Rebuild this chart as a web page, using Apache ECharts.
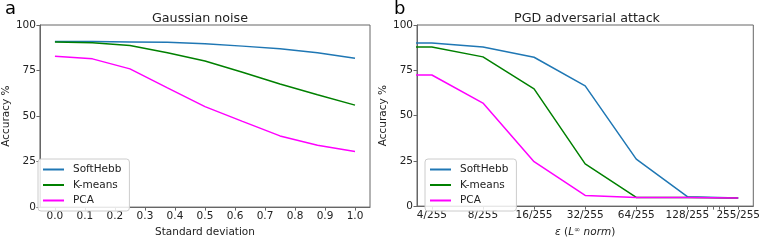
<!DOCTYPE html>
<html>
<head>
<meta charset="utf-8">
<script src="https://cdn.jsdelivr.net/npm/echarts@6/dist/echarts.min.js"></script>
<style>
html,body{margin:0;padding:0;background:#fff;}
#chart{width:763px;height:243px;}
</style>
</head>
<body>
<div id="chart"></div>
<script>
// ---- data ----
const seriesNames = ['SoftHebb', 'K-means', 'PCA'];
const gaussStd = [0, 0.125, 0.25, 0.375, 0.5, 0.625, 0.75, 0.875, 1.0];
const gaussSoftHebb = [91.0, 90.9, 90.7, 90.5, 89.7, 88.4, 87.0, 84.8, 81.7];
const gaussKmeans   = [90.7, 90.2, 88.8, 84.8, 80.2, 74.1, 67.6, 61.7, 56.0];
const gaussPCA      = [82.8, 81.4, 75.9, 65.5, 55.2, 47.1, 39.1, 34.0, 30.5];
const gaussTicks = [0, 0.1, 0.2, 0.3, 0.4, 0.5, 0.6, 0.7, 0.8, 0.9, 1.0];

// epsilon numerators (epsilon = n/255)
const pgdEps       = [2, 4, 8, 16, 32, 64, 128, 255];
const pgdSoftHebb  = [90.0, 90.0, 87.9, 82.2, 66.4, 25.9, 5.2, 4.5];
const pgdKmeans    = [87.8, 87.8, 82.4, 64.7, 23.3, 4.8, 4.7, 4.5];
const pgdPCA       = [72.4, 72.4, 56.9, 24.5, 5.9, 4.7, 4.7, 4.5];
const pgdTicks = [4, 8, 16, 32, 64, 128, 255];
const pgdMinorTicks = [167, 181, 196, 212];
const yTicks = [0, 25, 50, 75, 100];

const colors = {'SoftHebb': '#1f77b4', 'K-means': '#008000', 'PCA': '#ff00ff'};
const FONT = '"DejaVu Sans", sans-serif';
const frameColor = '#666';
const textColor = '#222';

function pairs(xs, ys) { return xs.map((x, i) => [x, ys[i]]); }

const chart = echarts.init(document.getElementById('chart'), null, {renderer: 'canvas'});

function yAxis(gi) {
  return {
    gridIndex: gi, type: 'value', min: 0, max: 100, interval: 25,
    axisLine: {show: true, onZero: false, lineStyle: {color: frameColor, width: 1}},
    axisTick: {show: true, length: 3.5, lineStyle: {color: frameColor}},
    axisLabel: {fontSize: 10.5, color: textColor, fontFamily: FONT, margin: 4},
    splitLine: {show: false},
    name: 'Accuracy %', nameLocation: 'middle', nameGap: 24,
    nameTextStyle: {fontSize: 10.5, color: textColor, fontFamily: FONT}
  };
}

function legend(idx, left) {
  return {
    orient: 'vertical', left: left, top: 159,
    data: seriesNames,
    itemWidth: 21, itemHeight: 11, itemGap: 4.5,
    padding: [5, 8, 5, 4],
    backgroundColor: 'rgba(255,255,255,0.85)',
    borderColor: '#ccc', borderWidth: 1, borderRadius: 3,
    itemStyle: {opacity: 0},
    textStyle: {fontSize: 10.5, color: textColor, fontFamily: FONT, padding: [0, 0, 0, 4]},
    selectedMode: false
  };
}

function line(name, xi, yi, data) {
  return {
    name: name, type: 'line', xAxisIndex: xi, yAxisIndex: yi,
    data: data, symbol: 'none', showSymbol: false,
    lineStyle: {color: colors[name], width: 1.5},
    itemStyle: {color: colors[name]},
    clip: true, animation: false
  };
}

const option = {
  animation: false,
  backgroundColor: '#fff',
  textStyle: {fontFamily: FONT},
  grid: [
    {left: 30, top: 25, width: 340, height: 193, show: true, borderColor: frameColor, borderWidth: 1, backgroundColor: 'transparent'},
    {left: 417, top: 25, width: 340, height: 193, show: true, borderColor: frameColor, borderWidth: 1, backgroundColor: 'transparent'}
  ],
  xAxis: [
    {
      gridIndex: 0, type: 'value', min: -0.05, max: 1.05,
      axisLine: {show: true, onZero: false, lineStyle: {color: frameColor}},
      axisTick: {show: true, length: 3.5, lineStyle: {color: frameColor}, customValues: gaussTicks},
      axisLabel: {fontSize: 10.5, color: textColor, fontFamily: FONT, margin: 4,
        customValues: gaussTicks, formatter: v => v.toFixed(1)},
      splitLine: {show: false},
      name: 'Standard deviation', nameLocation: 'middle', nameGap: 14,
      nameTextStyle: {fontSize: 10.5, color: textColor, fontFamily: FONT}
    },
    {
      gridIndex: 1, type: 'log', logBase: 2, min: 3.27, max: 313,
      axisLine: {show: true, onZero: false, lineStyle: {color: frameColor}},
      axisTick: {show: true, length: 3.5, lineStyle: {color: frameColor}, customValues: pgdTicks.concat(pgdMinorTicks)},
      axisLabel: {fontSize: 10.5, color: textColor, fontFamily: FONT, margin: 4,
        customValues: pgdTicks, formatter: v => Math.round(v) + '/255'},
      splitLine: {show: false}, minorTick: {show: false}, minorSplitLine: {show: false},
      name: '{i|ε} ({i|L}{s|∞} {i|norm})', nameLocation: 'middle', nameGap: 14,
      nameTextStyle: {fontSize: 10.5, color: textColor, fontFamily: FONT,
        rich: {
          i: {fontStyle: 'italic', fontSize: 10.5, fontFamily: FONT, color: textColor},
          s: {fontStyle: 'italic', fontSize: 7.5, fontFamily: FONT, color: textColor, verticalAlign: 'top', padding: [0, 0, 5, 0]}
        }}
    }
  ],
  yAxis: [yAxis(0), yAxis(1)],
  legend: [legend(0, 38), legend(1, 425)],
  series: [
    line('SoftHebb', 0, 0, pairs(gaussStd, gaussSoftHebb)),
    line('K-means', 0, 0, pairs(gaussStd, gaussKmeans)),
    line('PCA', 0, 0, pairs(gaussStd, gaussPCA)),
    line('SoftHebb', 1, 1, pairs(pgdEps, pgdSoftHebb)),
    line('K-means', 1, 1, pairs(pgdEps, pgdKmeans)),
    line('PCA', 1, 1, pairs(pgdEps, pgdPCA))
  ],
  graphic: [
    {type: 'text', x: 200, y: 19, style: {text: 'Gaussian noise', font: '12.7px "DejaVu Sans"', fill: textColor, align: 'center', verticalAlign: 'middle'}},
    {type: 'text', x: 587, y: 19, style: {text: 'PGD adversarial attack', font: '12.7px "DejaVu Sans"', fill: textColor, align: 'center', verticalAlign: 'middle'}},
    {type: 'text', x: 5, y: 9, style: {text: 'a', font: '18px "DejaVu Sans"', fill: '#000', align: 'left', verticalAlign: 'middle'}},
    {type: 'text', x: 394, y: 9, style: {text: 'b', font: '18px "DejaVu Sans"', fill: '#000', align: 'left', verticalAlign: 'middle'}}
  ]
};
chart.setOption(option);
</script>
</body>
</html>
